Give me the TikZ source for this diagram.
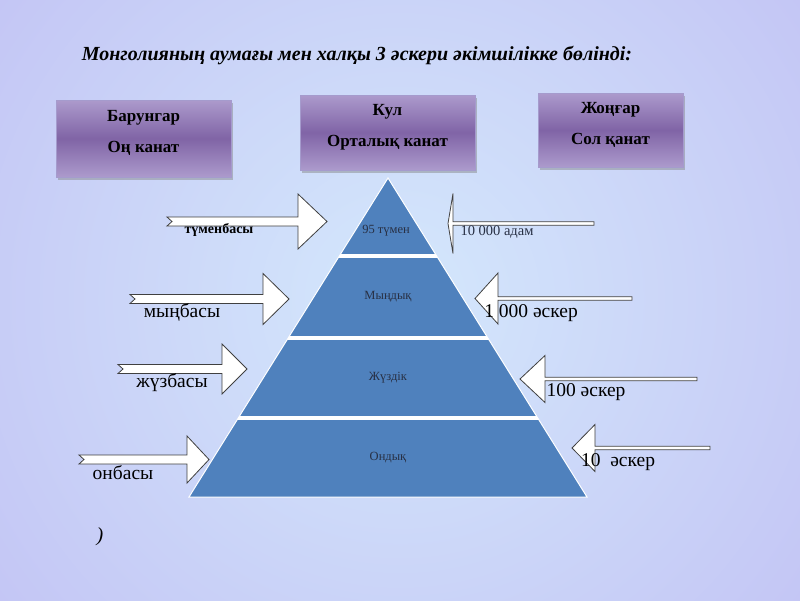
\documentclass[tikz,border=0pt]{standalone}
\usepackage{fontspec}
\setmainfont{Liberation Serif}
\usetikzlibrary{shadows}
\definecolor{bginner}{RGB}{212,232,252}
\definecolor{bgouter}{RGB}{194,194,244}
\definecolor{layerblue}{RGB}{79,129,189}
\definecolor{boxtop}{RGB}{172,154,204}
\definecolor{boxmid}{RGB}{128,100,166}
\definecolor{boxline}{RGB}{165,155,205}
\definecolor{layertext}{RGB}{40,48,68}
\begin{document}
\begin{tikzpicture}[x=1pt,y=-1pt,
  wingbox/.style={draw=boxline, line width=1pt, top color=boxtop, bottom color=boxtop,
    middle color=boxmid, drop shadow={shadow xshift=2pt,shadow yshift=-3pt,opacity=.45},
    align=center, font=\bfseries\fontsize{17}{19}\selectfont},
  layerlabel/.style={text=layertext, font=\fontsize{12.5}{14}\selectfont},
  rank/.style={font=\fontsize{19.5}{21}\selectfont},
  blockarrow/.style={fill=white, draw=black!75, line width=.8pt}]

\begin{scope}
  \clip (0,0) rectangle (800,600);
  \shade[inner color=bginner, outer color=bgouter] (400,300) circle (560);
\end{scope}
\useasboundingbox (0,0) rectangle (800,600);

\node[font=\bfseries\itshape\fontsize{20}{22}\selectfont] (title) at (357,55)
  {Монголияның аумағы мен халқы 3 әскери әкімшілікке бөлінді:};

% three wings
\node[wingbox, minimum width=175, minimum height=77] (barungar) at (143.5,138.5)
  {Барунгар\\[12pt]Оң канат\\[-5pt]\mbox{}};
\node[wingbox, minimum width=175, minimum height=75] (kul) at (387.5,132.5)
  {Кул\\[12pt]Орталық канат\\[-5pt]\mbox{}};
\node[wingbox, minimum width=145, minimum height=74] (jongar) at (610.5,130)
  {Жоңғар\\[12pt]Сол қанат\\[-5pt]\mbox{}};

% pyramid
\coordinate (apex) at (388,178);
\coordinate (baseL) at (189,497);
\coordinate (baseR) at (587,497);
\begin{scope}
  \clip (apex) -- (baseR) -- (baseL) -- cycle;
  \fill[layerblue] (apex) -- (baseR) -- (baseL) -- cycle;
  \foreach \y in {256,338,418}
    \draw[white, line width=3.5pt] (150,\y) -- (630,\y);
\end{scope}
\draw[white, line width=1pt] (apex) -- (baseR) -- (baseL) -- cycle;

\node[layerlabel] (tumen) at (386,231) {95 түмен};
\node[layerlabel] (myndyq) at (388,297) {Мыңдық};
\node[layerlabel] (juzdik) at (388,378) {Жүздік};
\node[layerlabel] (ondyq) at (388,458) {Ондық};

% arrows from the left
\foreach \tx/\yc/\hb/\tip/\hh in {167/221.5/298/327/27.5, 130/299/263/289/25.5,
                                  118/369/222/247/25, 79/459.5/187/209/23.5}
  \draw[blockarrow] (\tx,\yc-4.5) -- (\hb,\yc-4.5) -- (\hb,\yc-\hh) -- (\tip,\yc)
    -- (\hb,\yc+\hh) -- (\hb,\yc+4.5) -- (\tx,\yc+4.5) -- (\tx+5,\yc) -- cycle;

% arrows from the right
\foreach \tip/\yc/\hb/\tail/\hh in {448/223.5/453/594/30, 475/298.5/498/632/25.5,
                                    520/379/545/697/23.5, 572/448/595/710/23.5}
  \draw[blockarrow] (\tip,\yc) -- (\hb,\yc-\hh) -- (\hb,\yc-1.8) -- (\tail,\yc-1.8)
    -- (\tail,\yc+1.8) -- (\hb,\yc+1.8) -- (\hb,\yc+\hh) -- cycle;

\node[font=\bfseries\fontsize{14}{16}\selectfont] (tumenbasy) at (219,230) {түменбасы};
\node[rank] (mynbasy) at (182,312) {мыңбасы};
\node[rank] (juzbasy) at (172,383) {жүзбасы};
\node[rank] (onbasy) at (123,473) {онбасы};

\node[layerlabel, font=\fontsize{14.5}{16}\selectfont] (adam) at (497,232) {10 000 адам};
\node[rank] (asker1000) at (531,313) {1 000 әскер};
\node[rank] (asker100) at (586,392) {100 әскер};
\node[rank] (asker10) at (618,462) {10~ әскер};

\node[font=\itshape\fontsize{20}{22}\selectfont] (paren) at (100,537) {)};
\end{tikzpicture}
\end{document}
